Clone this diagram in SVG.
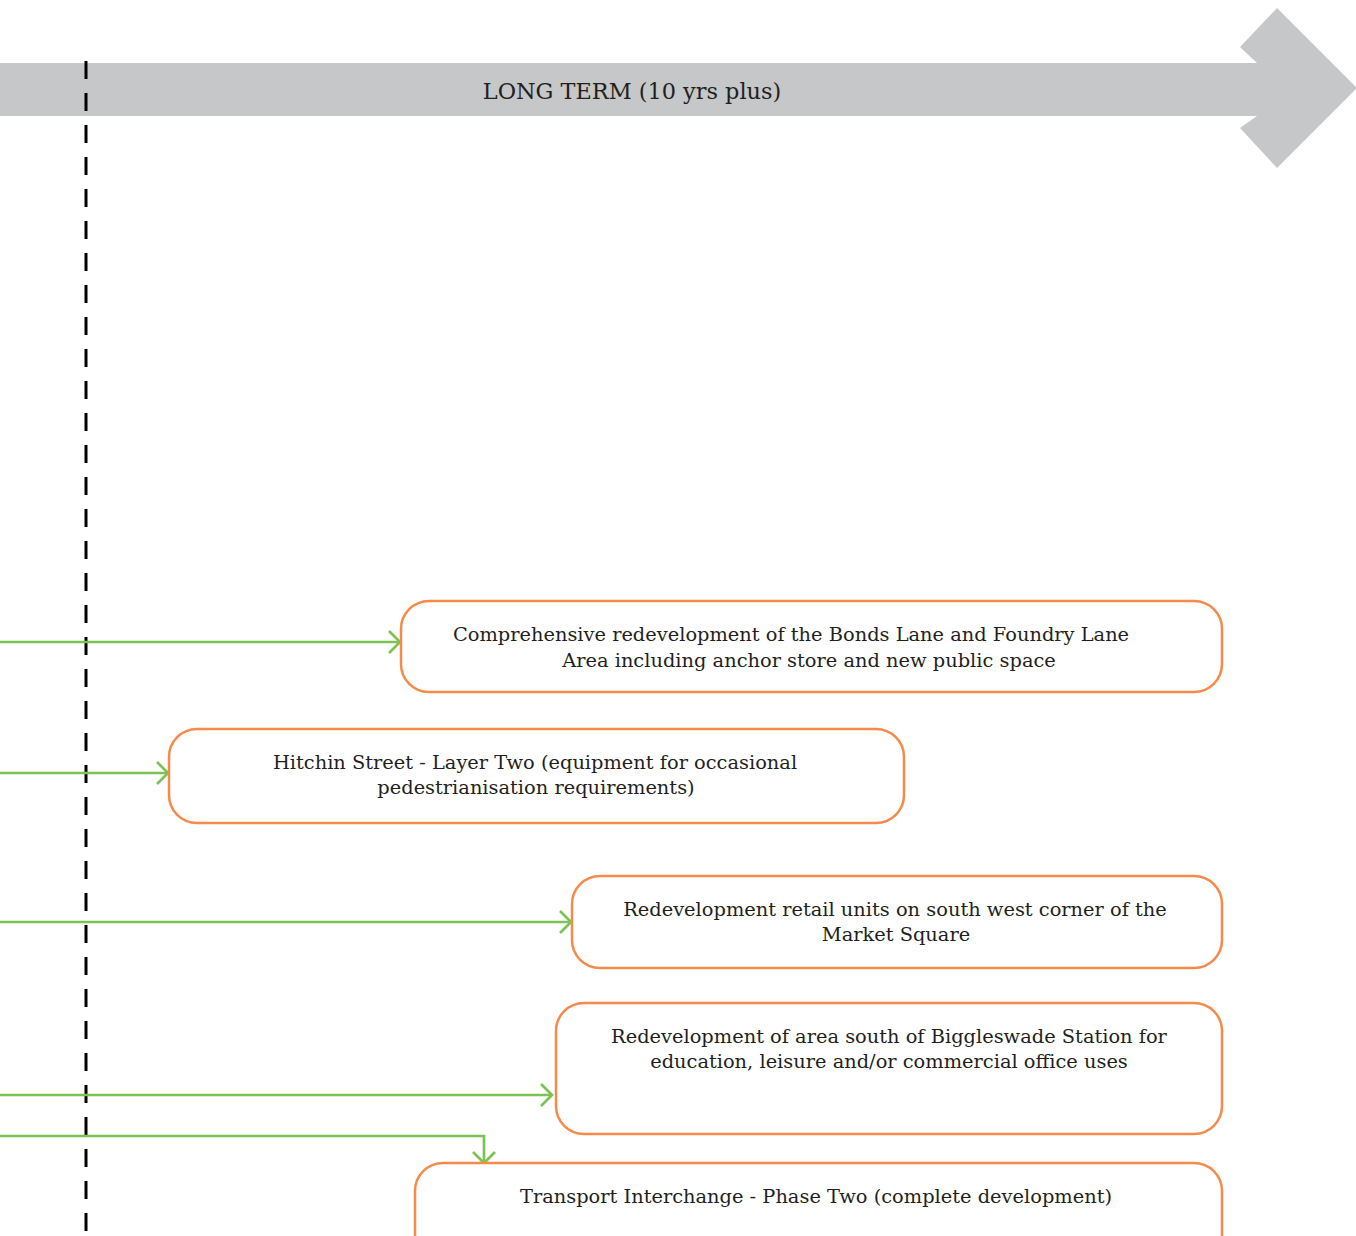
<svg xmlns="http://www.w3.org/2000/svg" width="1356" height="1236" viewBox="0 0 1356 1236">
<defs>
<style>
.box{fill:#fff;stroke:#f58a4b;stroke-width:2.5}
.t{font-family:"DejaVu Serif","Liberation Serif",serif;font-size:19.4px;fill:#231f20;text-anchor:middle}
.title{font-family:"DejaVu Serif","Liberation Serif",serif;font-size:22.4px;fill:#231f20;text-anchor:middle}
.c{fill:none;stroke:#7dc353;stroke-width:2.7}
</style>
<marker id="ah" viewBox="0 0 14 24" refX="12" refY="12" markerWidth="14" markerHeight="24" markerUnits="userSpaceOnUse" orient="auto">
<path d="M1,1 L12,12 L1,23" fill="none" stroke="#7dc353" stroke-width="2.7"/>
</marker>
</defs>
<rect width="1356" height="1236" fill="#fff"/>
<g id="timeline">
<polygon points="0,63 1257,63 1240,47 1277,8 1357,88 1277,168 1240,128 1257,116 0,116" fill="#c6c7c9"/>
<text class="title" x="632" y="99">LONG TERM (10 yrs plus)</text>
</g>
<g id="divider">
<line x1="86" y1="61" x2="86" y2="1236" stroke="#000" stroke-width="3" stroke-dasharray="18 14"/>
</g>
<g id="connectors">
<path class="c" d="M0,642 H400" marker-end="url(#ah)"/>
<path class="c" d="M0,773 H168" marker-end="url(#ah)"/>
<path class="c" d="M0,922 H571" marker-end="url(#ah)"/>
<path class="c" d="M0,1095 H552" marker-end="url(#ah)"/>
<path class="c" d="M0,1136 H484 V1163" marker-end="url(#ah)"/>
</g>
<g id="n1">
<rect class="box" x="401" y="601" width="821" height="91" rx="28"/>
<text class="t" x="791" y="641">Comprehensive redevelopment of the Bonds Lane and Foundry Lane</text>
<text class="t" x="809" y="667">Area including anchor store and new public space</text>
</g>
<g id="n2">
<rect class="box" x="169" y="729" width="735" height="94" rx="28"/>
<text class="t" x="535" y="769">Hitchin Street - Layer Two (equipment for occasional</text>
<text class="t" x="536" y="794">pedestrianisation requirements)</text>
</g>
<g id="n3">
<rect class="box" x="572" y="876" width="650" height="92" rx="28"/>
<text class="t" x="895" y="916">Redevelopment retail units on south west corner of the</text>
<text class="t" x="896" y="941">Market Square</text>
</g>
<g id="n4">
<rect class="box" x="556" y="1003" width="666" height="131" rx="28"/>
<text class="t" x="889" y="1043">Redevelopment of area south of Biggleswade Station for</text>
<text class="t" x="889" y="1068">education, leisure and/or commercial office uses</text>
</g>
<g id="n5">
<rect class="box" x="415" y="1163" width="807" height="110" rx="28"/>
<text class="t" x="816" y="1203">Transport Interchange - Phase Two (complete development)</text>
</g>
</svg>
